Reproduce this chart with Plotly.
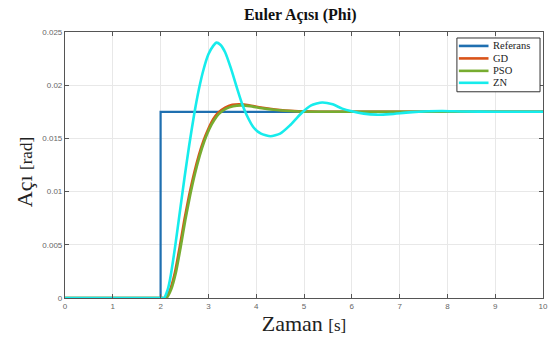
import plotly.graph_objects as go

# Time axes (s) and roll-angle responses (rad)
t_ref = [0, 2.0, 2.0, 10]
phi_ref = [0, 0, 0.0175, 0.0175]

t_gd = [0, 2.0, 2.1, 2.2, 2.3, 2.4, 2.5, 2.6, 2.7, 2.8, 2.9, 3.0, 3.1, 3.2, 3.35, 3.5, 3.66, 3.85, 4.1, 4.4, 4.8, 5.3, 6.0, 10]
phi_gd = [0, 0, 0, 0.0008, 0.0024, 0.0048, 0.0074, 0.0097, 0.0117, 0.0134, 0.0148, 0.0159, 0.0168, 0.0174, 0.0179,
          0.01815, 0.0182, 0.01812, 0.0179, 0.01772, 0.01757, 0.01751, 0.0175, 0.0175]

t_pso = [0, 2.0, 2.12, 2.22, 2.32, 2.42, 2.52, 2.62, 2.72, 2.82, 2.92, 3.02, 3.12, 3.22, 3.37, 3.52, 3.68, 3.87, 4.12, 4.42, 4.8, 5.3, 6.0, 10]
phi_pso = [0, 0, 0, 0.0008, 0.0024, 0.0048, 0.0074, 0.0097, 0.0117, 0.0134, 0.0148, 0.0159, 0.0167, 0.0173, 0.0178,
           0.01803, 0.0181, 0.01803, 0.01783, 0.01767, 0.01755, 0.0175, 0.0175, 0.0175]

t_zn = [0, 2.0, 2.07, 2.15, 2.2, 2.3, 2.4, 2.5, 2.6, 2.7, 2.8, 2.9, 3.0, 3.1, 3.17, 3.25, 3.35, 3.47, 3.6, 3.7, 3.8,
        3.95, 4.1, 4.3, 4.5, 4.7, 4.93, 5.15, 5.38, 5.6, 5.8, 6.0, 6.25, 6.52, 6.8, 7.2, 7.6, 7.9, 8.3, 9.0, 10]
phi_zn = [0, 0, 0, 0.0008, 0.0018, 0.0047, 0.0080, 0.0113, 0.0144, 0.0172, 0.0196, 0.0215, 0.0229, 0.0237, 0.0240,
          0.0238, 0.0231, 0.0216, 0.0197, 0.0183, 0.0172, 0.0160, 0.01545, 0.0152, 0.01545, 0.0162, 0.0173, 0.0181,
          0.01838, 0.0182, 0.0178, 0.01755, 0.01733, 0.01723, 0.01728, 0.01745, 0.01755, 0.01757, 0.01753, 0.0175, 0.0175]

x_ticks = list(range(0, 11))
y_ticks = [0, 0.005, 0.01, 0.015, 0.02, 0.025]
y_tick_text = ["0", "0.005", "0.01", "0.015", "0.02", "0.025"]

series_names = ["Referans", "GD", "PSO", "ZN"]
series_colors = ["#1f6fb0", "#d95319", "#77ac30", "#16ecec"]

serif = "Liberation Serif, Times New Roman, serif"
sans = "Liberation Sans, Arial, sans-serif"

fig = go.Figure()
fig.add_trace(go.Scatter(x=t_ref, y=phi_ref, name=series_names[0], mode="lines",
                         line=dict(color=series_colors[0], width=2.2)))
for t, phi, name, color in [(t_gd, phi_gd, series_names[1], series_colors[1]),
                            (t_pso, phi_pso, series_names[2], series_colors[2]),
                            (t_zn, phi_zn, series_names[3], series_colors[3])]:
    fig.add_trace(go.Scatter(x=t, y=phi, name=name, mode="lines",
                             line=dict(color=color, width=2.6, shape="spline", smoothing=0.6)))

axis_common = dict(
    showgrid=True, gridcolor="#e8e8e8", gridwidth=1,
    showline=True, linecolor="#555555", linewidth=1.2, mirror="ticks",
    ticks="inside", ticklen=4, tickcolor="#555555",
    tickfont=dict(family=sans, size=8, color="#666666"),
    zeroline=False,
)

fig.update_xaxes(range=[0, 10], tickvals=x_ticks, **axis_common,
                 title=dict(text='Zaman <span style="font-size:17px">[s]</span>',
                            font=dict(family=serif, size=22, color="#222222"), standoff=4))
fig.update_yaxes(range=[0, 0.025], tickvals=y_ticks, ticktext=y_tick_text, **axis_common)

# Boxed legend in the top-right corner of the axes
box_x0, box_x1, box_y0, box_y1 = 0.8199, 0.9938, 0.7753, 0.9775
row_y = [0.9476, 0.9007, 0.8539, 0.8090]
sample_x0, sample_x1, label_x = 0.824, 0.886, 0.891

shapes = [dict(type="rect", xref="paper", yref="paper", x0=box_x0, x1=box_x1, y0=box_y0, y1=box_y1,
               line=dict(color="#333333", width=1), fillcolor="white", layer="above")]
annotations = []
for name, color, yy in zip(series_names, series_colors, row_y):
    shapes.append(dict(type="line", xref="paper", yref="paper", x0=sample_x0, x1=sample_x1, y0=yy, y1=yy,
                       line=dict(color=color, width=2.6), layer="above"))
    annotations.append(dict(xref="paper", yref="paper", x=label_x, y=yy, text=name, showarrow=False,
                            xanchor="left", yanchor="middle",
                            font=dict(family=serif, size=10.5, color="#222222")))

# Vertical axis caption, set slightly below the axis midpoint
annotations.append(dict(xref="paper", yref="paper", x=-0.083, y=0.474, textangle=-90,
                        text='Açı <span style="font-size:17px">[rad]</span>', showarrow=False,
                        xanchor="center", yanchor="middle",
                        font=dict(family=serif, size=22, color="#222222")))

fig.update_layout(
    width=558, height=340,
    margin=dict(l=65, r=10, t=32, b=41),
    paper_bgcolor="white", plot_bgcolor="white",
    title=dict(text="<b>Euler Açısı (Phi)</b>", x=0.538, xanchor="center", y=0.957, yanchor="middle",
               font=dict(family=serif, size=16, color="#111111")),
    showlegend=False,
    shapes=shapes,
    annotations=annotations,
)

fig.write_html("out.html")
